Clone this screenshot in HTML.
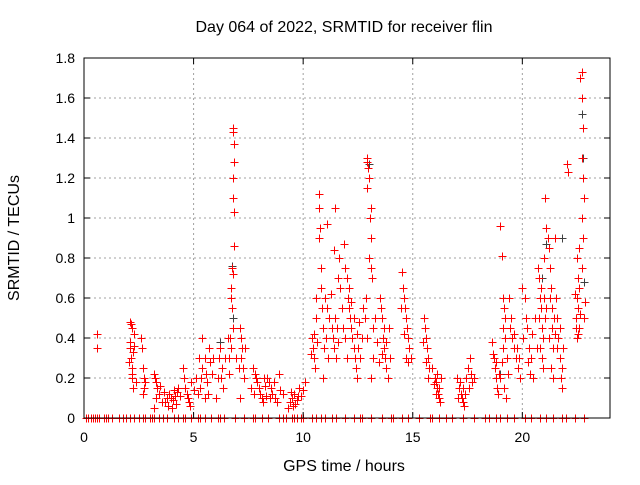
<!DOCTYPE html>
<html><head><meta charset="utf-8"><style>
body{margin:0;background:#fff;}
svg text{font-family:"Liberation Sans",sans-serif;font-size:14px;fill:#000;}
svg text.big{font-size:16px;}
</style></head><body>
<svg id="chart" width="640" height="480" xmlns="http://www.w3.org/2000/svg">
<rect width="640" height="480" fill="#fff"/>
<text class="big" x="344" y="32" text-anchor="middle">Day 064 of 2022, SRMTID for receiver flin</text>
<text class="big" x="344" y="471" text-anchor="middle">GPS time / hours</text>
<text class="big" transform="translate(19,238) rotate(-90)" text-anchor="middle">SRMTID / TECUs</text>
<g id="grid"></g><g id="marks" shape-rendering="crispEdges"></g><g id="axes"></g>
</svg>
<script>
const xTicks=[0,5,10,15,20];
const yTicks=[0,0.2,0.4,0.6,0.8,1,1.2,1.4,1.6,1.8];
const yTickLabels=["0","0.2","0.4","0.6","0.8","1","1.2","1.4","1.6","1.8"];
const redPoints=[
[0.6,0.42],[0.6,0.35],
[2.1,0.48],[2.15,0.47],[2.2,0.45],[2.1,0.38],[2.12,0.35],[2.15,0.3],[2.2,0.25],[2.18,0.22],[2.2,0.2],[2.25,0.15],[2.3,0.36],[2.25,0.33],
[2.6,0.4],[2.65,0.35],[2.7,0.25],[2.72,0.2],[2.75,0.15],[2.8,0.18],[2.7,0.12],
[3.2,0.22],[3.25,0.2],[3.3,0.18],[3.35,0.15],[3.4,0.12],[3.3,0.1],[3.2,0.05],[3.45,0.16],
[3.7,0.08],[3.8,0.1],[3.9,0.12],[3.85,0.06],[4.0,0.05],[4.05,0.09],[4.1,0.14],[4.15,0.11],[4.2,0.07],[4.25,0.13],[4.3,0.15],[3.95,0.1],
[4.5,0.25],[4.55,0.2],[4.6,0.15],[4.7,0.12],[4.75,0.1],[4.8,0.08],[4.9,0.18],[5.0,0.14],
[5.2,0.12],[5.3,0.15],[5.35,0.2],[5.4,0.25],[5.5,0.3],[5.55,0.22],[5.6,0.18],[5.5,0.1],[5.7,0.35],[5.75,0.28],[5.4,0.4],
[6.0,0.1],[6.1,0.2],[6.15,0.3],[6.2,0.35],[6.3,0.25],[6.35,0.15],
[6.8,1.45],[6.82,1.43],[6.84,1.37],[6.86,1.28],[6.8,1.2],[6.82,1.1],[6.85,1.03],[6.86,0.86],[6.75,0.75],[6.8,0.72],[6.7,0.65],[6.72,0.6],[6.75,0.55],[6.8,0.45],[6.65,0.4],[6.7,0.35],[6.6,0.3],
[7.1,0.45],[7.15,0.4],[7.2,0.35],[7.15,0.3],[7.25,0.25],[7.3,0.2],[7.1,0.1],
[7.7,0.25],[7.8,0.22],[7.85,0.2],[7.9,0.18],[8.0,0.15],[8.05,0.12],[8.1,0.1],[8.15,0.08],[8.2,0.2],[8.25,0.16],
[8.35,0.2],[8.45,0.18],[8.55,0.15],[8.6,0.12],[8.7,0.1],[8.8,0.08],[8.9,0.22],[8.95,0.14],
[9.3,0.05],[9.4,0.08],[9.5,0.1],[9.6,0.12],[9.65,0.07],[9.7,0.09],[9.8,0.15],[9.9,0.11],
[10.4,0.4],[10.45,0.35],[10.5,0.3],[10.55,0.25],[10.6,0.5],[10.6,0.6],[10.7,1.12],[10.7,1.05],[10.75,0.95],[10.7,0.9],[10.8,0.75],[10.8,0.65],[10.85,0.55],[10.9,0.45],[10.9,0.2],
[11.0,0.6],[11.1,0.55],[11.2,0.5],[11.3,0.45],[11.35,0.4],[11.4,0.35],[11.5,0.3],[11.4,0.84],[11.45,1.05],[11.1,0.97],[11.6,0.7],[11.65,0.8],[11.7,0.65],
[11.85,0.87],[11.9,0.75],[12.0,0.7],[12.05,0.6],[12.1,0.55],[12.15,0.5],[12.2,0.45],[12.25,0.4],[12.3,0.35],[12.35,0.3],[12.4,0.25],[12.45,0.2],
[12.9,1.3],[12.92,1.28],[12.95,1.25],[13.0,1.2],[12.9,1.15],[13.1,1.05],[13.05,1.0],[13.1,0.9],[13.0,0.8],[13.1,0.75],[13.15,0.7],[12.85,0.6],[12.8,0.5],[12.9,0.4],[13.2,0.3],[13.1,0.2],
[13.5,0.6],[13.55,0.55],[13.6,0.5],[13.65,0.4],[13.7,0.35],[13.75,0.3],[13.8,0.25],[13.85,0.2],[13.9,0.45],
[14.5,0.73],[14.55,0.65],[14.6,0.6],[14.65,0.55],[14.7,0.5],[14.75,0.45],[14.8,0.4],[14.85,0.35],[14.9,0.3],
[15.5,0.5],[15.55,0.45],[15.6,0.4],[15.65,0.35],[15.7,0.3],[15.75,0.25],
[15.9,0.25],[16.0,0.2],[16.05,0.18],[16.1,0.15],[16.15,0.12],[16.2,0.1],[16.25,0.08],
[17.0,0.2],[17.1,0.15],[17.2,0.12],[17.25,0.1],[17.3,0.08],[17.35,0.06],[17.5,0.25],[17.6,0.3],[17.7,0.18],
[18.6,0.38],[18.7,0.3],[18.75,0.25],[18.8,0.2],[18.85,0.15],[18.9,0.12],
[19.0,0.96],[19.05,0.81],[19.1,0.6],[19.15,0.55],[19.2,0.5],[19.1,0.45],[19.2,0.4],[19.0,0.2],[19.15,0.15],[19.25,0.1],
[19.4,0.6],[19.5,0.5],[19.55,0.4],[19.6,0.35],[19.7,0.3],[19.8,0.25],[19.9,0.2],
[20.0,0.65],[20.1,0.6],[20.15,0.5],[20.2,0.45],[20.3,0.35],[20.4,0.3],[20.5,0.2],
[20.7,0.75],[20.75,0.7],[20.8,0.6],[20.85,0.55],[20.9,0.45],[20.95,0.4],[20.8,0.35],[20.9,0.3],[20.95,0.25],
[21.05,1.1],[21.1,0.95],[21.15,0.9],[21.2,0.85],[21.0,0.8],[21.25,0.75],[21.3,0.65],[21.1,0.55],[21.35,0.45],[21.4,0.35],[21.3,0.25],[21.4,0.2],
[21.5,0.9],[21.55,0.6],[21.6,0.5],[21.65,0.4],[21.7,0.3],[21.75,0.2],[21.8,0.15],
[22.05,1.27],[22.1,1.23],
[22.7,1.73],[22.65,1.7],[22.7,1.6],[22.75,1.45],[22.7,1.3],[22.75,1.2],[22.8,1.1],[22.7,1.0],[22.75,0.9],[22.6,0.85],[22.5,0.8],[22.55,0.7],[22.6,0.65],[22.5,0.6],[22.55,0.55],[22.45,0.5],[22.6,0.45],[22.5,0.4]
];
const extraRedPoints=[
[2.05,0.28],[2.3,0.42],[2.35,0.18],[3.55,0.08],[3.65,0.13],[4.4,0.11],[4.85,0.06],[5.1,0.2],[5.25,0.3],[5.65,0.12],[5.85,0.22],[5.9,0.3],[6.25,0.2],[6.45,0.3],[6.55,0.4],[6.6,0.22],[6.95,0.3],[7.05,0.25],[7.35,0.35],
[7.6,0.15],[7.75,0.12],[8.3,0.11],[8.5,0.1],[8.65,0.18],[9.1,0.12],[9.45,0.13],[9.55,0.06],[9.75,0.11],[10.0,0.14],[10.1,0.18],
[10.35,0.32],[10.5,0.42],[10.65,0.38],[10.95,0.35],[11.05,0.4],[11.15,0.3],[11.25,0.62],[11.45,0.5],[11.55,0.45],[11.6,0.38],[11.75,0.55],[11.8,0.45],[11.9,0.4],[12.0,0.3],[12.1,0.65],[12.2,0.58],[12.3,0.5],[12.45,0.42],[12.5,0.35],[12.55,0.48],[12.6,0.3],[12.7,0.4],[12.75,0.55],[13.2,0.45],[13.3,0.5],[13.35,0.38],[13.45,0.28],[13.6,0.32],[13.7,0.45],[13.8,0.38],[13.95,0.3],
[14.45,0.55],[14.6,0.42],[14.7,0.3],[14.8,0.28],[15.45,0.38],[15.6,0.28],[15.7,0.2],[15.95,0.17],[16.05,0.12],[16.1,0.22],[16.2,0.15],[16.3,0.2],[17.05,0.1],[17.15,0.18],[17.3,0.15],[17.4,0.12],[17.45,0.2],[17.55,0.15],[17.65,0.22],[17.8,0.2],
[18.65,0.32],[18.8,0.28],[18.95,0.22],[19.05,0.28],[19.1,0.35],[19.3,0.3],[19.35,0.22],[19.45,0.45],[19.6,0.42],[19.75,0.35],[19.85,0.3],[20.05,0.4],[20.25,0.28],[20.35,0.22],[20.45,0.42],[20.6,0.5],[20.65,0.35],[20.75,0.5],[20.85,0.65],[21.0,0.6],[21.05,0.5],[21.2,0.4],[21.25,0.6],[21.35,0.55],[21.45,0.5],[21.5,0.42],[21.6,0.35],[21.7,0.45],[21.8,0.25],[21.85,0.35],
[22.4,0.62],[22.45,0.45],[22.55,0.42],[22.65,0.52],[22.7,0.75],[22.8,0.5],[22.85,0.58]
];
const grayPoints=[[0.6,0.42],[6.75,0.76],[6.8,0.5],[10.75,0.95],[13.0,1.27],[20.9,0.7],[21.1,0.87],[21.8,0.9],[22.7,1.52],[22.75,1.3],[22.8,0.68],[19.0,0.22],[6.2,0.38]];
const zeroTimes=[0.1,0.2,0.3,0.4,0.5,0.6,0.7,0.9,1.0,1.1,1.3,1.6,1.8,1.9,2.1,2.3,2.5,2.7,2.8,3.0,3.1,3.2,3.4,3.6,3.8,4.1,4.3,4.5,4.6,4.9,5.2,5.3,5.5,5.8,6.1,6.2,6.4,6.9,7.3,7.7,7.8,8.1,8.4,8.9,9.1,9.2,9.5,9.6,9.7,9.9,10.0,10.4,10.6,10.8,11.0,11.3,11.5,11.9,12.3,12.6,12.7,13.1,13.6,14.0,14.1,14.5,14.8,15.3,15.8,15.9,16.2,16.5,16.8,17.3,17.8,18.3,18.5,18.8,19.0,19.3,19.6,20.1,20.4,20.8,21.1,21.4,21.8,22.0,22.4,22.8];

const X0=84,X1=610,Y0=418,Y1=58,XMAX=24,YMAX=1.8;
const sx=v=>X0+v/XMAX*(X1-X0);
const sy=v=>Y0-v/YMAX*(Y0-Y1);
const NS="http://www.w3.org/2000/svg";
const grid=document.getElementById('grid'),marks=document.getElementById('marks'),axes=document.getElementById('axes');
function mk(tag,attrs,parent){const e=document.createElementNS(NS,tag);for(const k in attrs)e.setAttribute(k,attrs[k]);parent.appendChild(e);return e;}
yTicks.forEach((t,i)=>{
  const y=sy(t);
  if(t>0&&t<YMAX){const g=mk('line',{x1:X0,x2:X1,y1:y,y2:y,stroke:'#a0a0a0','stroke-dasharray':'2,3','stroke-width':1},grid);
  
  }
  mk('line',{x1:X0,x2:X0+6,y1:y,y2:y,stroke:'#000'},axes);
  mk('line',{x1:X1,x2:X1-6,y1:y,y2:y,stroke:'#000'},axes);
  const tx=mk('text',{x:X0-9,y:y+5,'text-anchor':'end'},axes);tx.textContent=yTickLabels[i];
  
  
});
xTicks.forEach(t=>{
  const x=sx(t);
  if(t>0){const g=mk('line',{x1:x,x2:x,y1:Y1,y2:Y0,stroke:'#a0a0a0','stroke-dasharray':'2,3'},grid);
  
  }
  mk('line',{x1:x,x2:x,y1:Y0,y2:Y0-6,stroke:'#000'},axes);
  mk('line',{x1:x,x2:x,y1:Y1,y2:Y1+6,stroke:'#000'},axes);
  const tx=mk('text',{x:x,y:Y0+24,'text-anchor':'middle'},axes);tx.textContent=String(t);
  
  
});
const frame=mk('rect',{x:X0,y:Y1,width:X1-X0,height:Y0-Y1,fill:'none',stroke:'#000'},axes);


function plus(t,v,color,name){
  const x=Math.round(sx(t))+0.5,y=Math.round(sy(v))+0.5;
  const p=mk('path',{d:`M${x-4},${y}H${x+4}M${x},${y-4}V${y+4}`,stroke:color,'stroke-width':1,fill:'none'},marks);
  
  
}
grayPoints.forEach(d=>plus(d[0],d[1],'#404040','gray-point'));
redPoints.forEach(d=>plus(d[0],d[1],'#ff0000','srmtid-point'));
extraRedPoints.forEach(d=>plus(d[0],d[1],'#ff0000','srmtid-point'));
zeroTimes.forEach(t=>plus(t,0,'#ff0000','zero-point'));
</script>
</body></html>
